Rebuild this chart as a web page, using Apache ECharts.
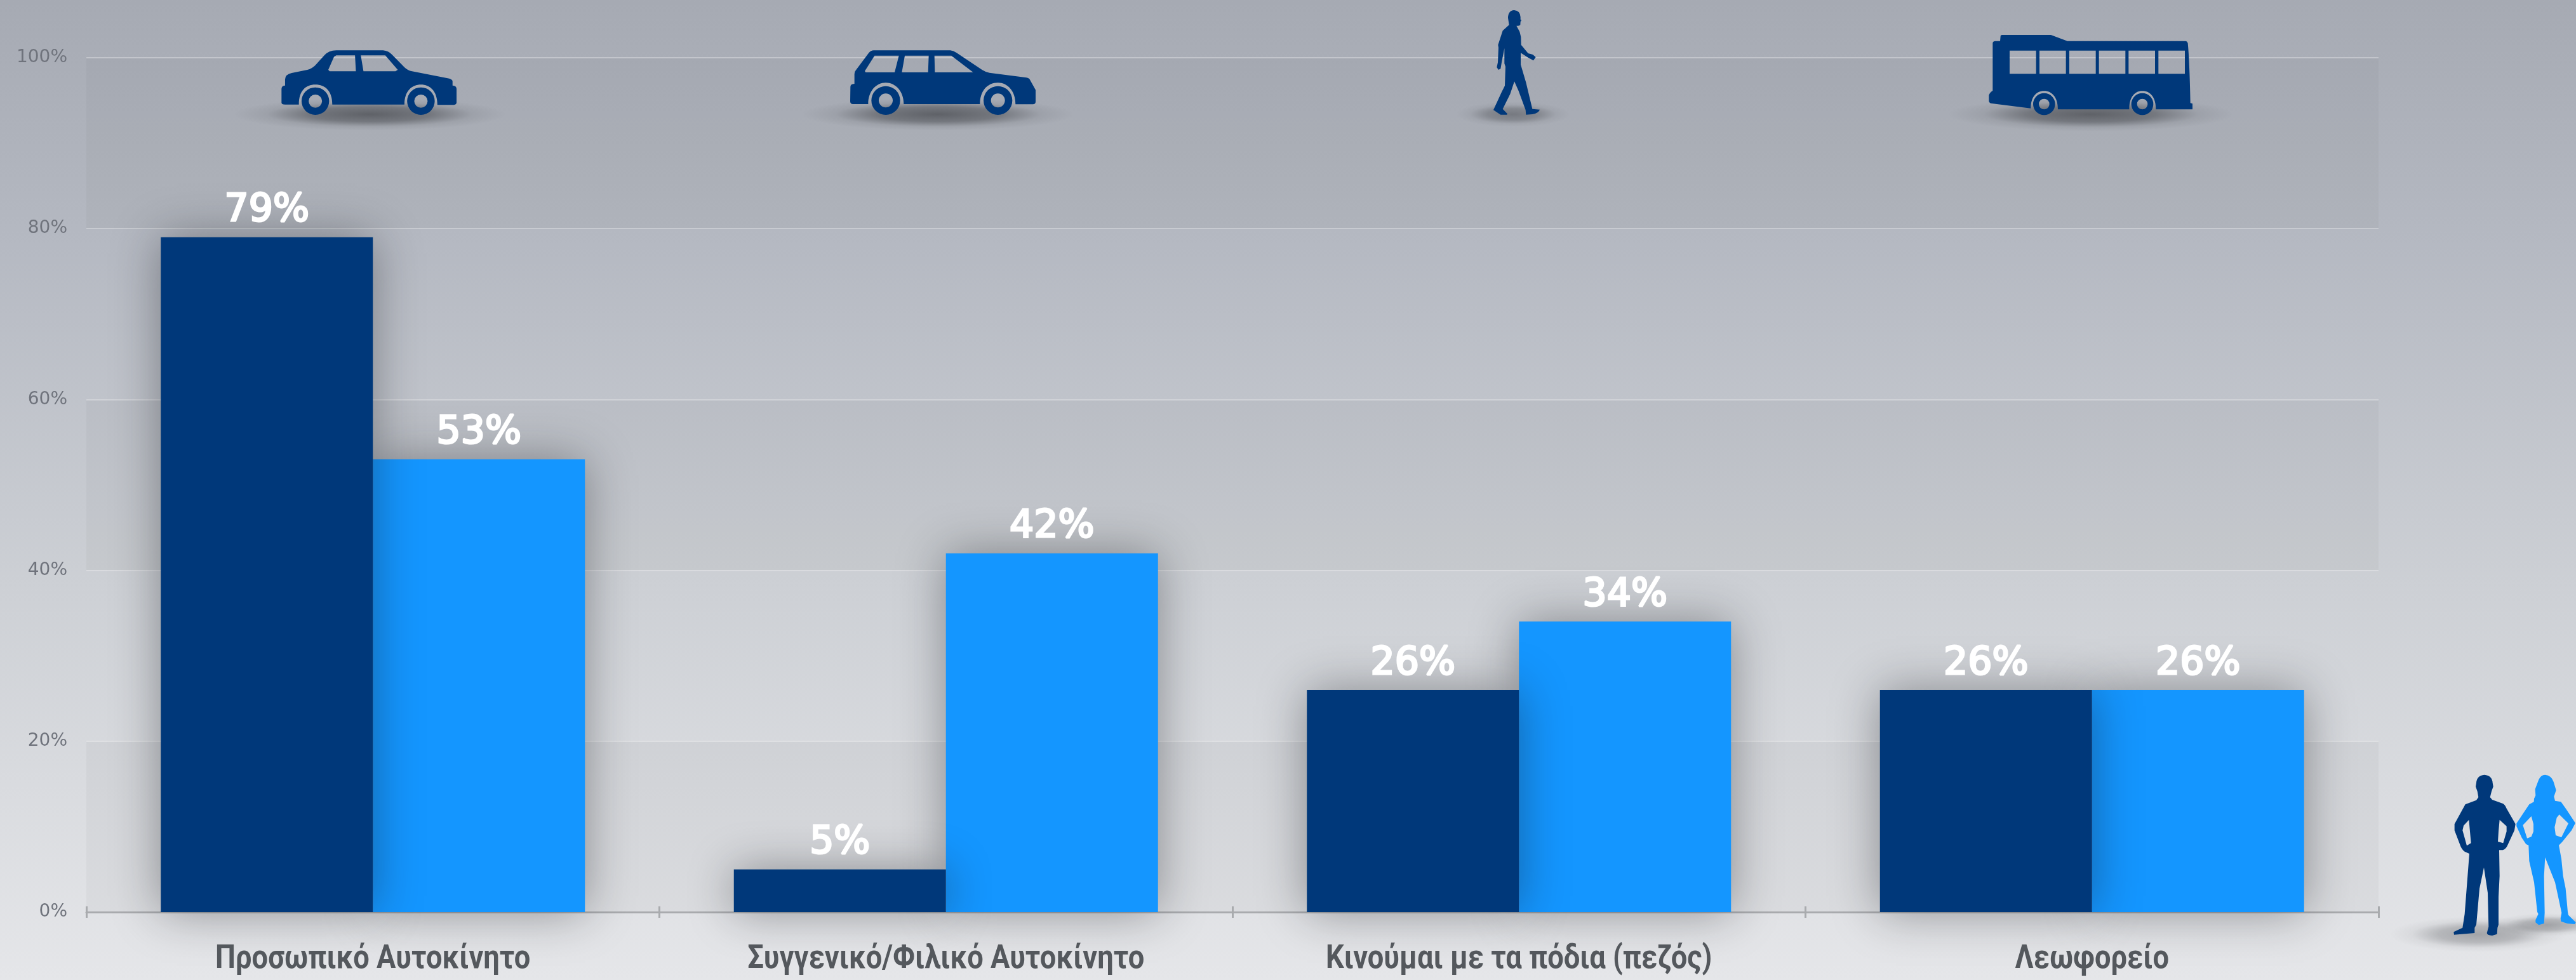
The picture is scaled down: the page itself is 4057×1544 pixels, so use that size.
<!DOCTYPE html>
<html lang="el" style="height:100%;">
<head>
    <meta charset="UTF-8">
    <title>Μετακίνηση</title>
    <script src="https://cdn.jsdelivr.net/npm/echarts@6/dist/echarts.min.js"></script>
</head>
<body style="height:100%;margin:0;">
<div id="main" style="width:4057px;height:1544px;"></div>
<script type="text/javascript">
    const categories = ['Προσωπικό Αυτοκίνητο', 'Συγγενικό/Φιλικό Αυτοκίνητο', 'Κινούμαι με τα πόδια (πεζός)', 'Λεωφορείο'];
    const menValues = [79, 5, 26, 26];
    const womenValues = [53, 42, 34, 26];

    const darkBlue = '#00387a';
    const lightBlue = '#1496ff';

    function wheel(cx, cy, rx, ry, hx, hy) {
        return 'M' + (cx - rx) + ' ' + cy + ' A' + rx + ' ' + ry + ' 0 1 1 ' + (cx + rx) + ' ' + cy + ' A' + rx + ' ' + ry + ' 0 1 1 ' + (cx - rx) + ' ' + cy + ' Z ' +
            'M' + (cx - hx) + ' ' + cy + ' A' + hx + ' ' + hy + ' 0 1 0 ' + (cx + hx) + ' ' + cy + ' A' + hx + ' ' + hy + ' 0 1 0 ' + (cx - hx) + ' ' + cy + ' Z ';
    }

    const sedanPath = 'M632 420 Q632 405 640 404 L640 375 Q640 352 655 345 L690 330 Q700 325 708 308 L728 262 Q738 238 755 238 L860 238 Q872 240 880 258 L908 318 Q915 333 925 337 L1005 370 Q1016 374 1016 385 L1016 404 Q1025 405 1025 420 L1025 485 Q1025 496 1015 496 L982 496 C982 430 965 400 945 400 C925 400 908 430 908 494 L746 494 C746 430 730 400 708 400 C686 400 671 430 671 494 L640 494 Q632 494 632 485 Z ' +
        'M755 262 L750 268 L737 330 L740 337 L799 337 L797 262 Z M810 262 L816 337 L888 337 L893 330 L865 262 Z ' +
        wheel(708, 478, 31, 65, 15, 31) + wheel(945, 478, 31, 65, 15, 31);

    const vanPath = 'M268 290 Q268 277 287 276 L287 230 Q287 218 295 210 L355 130 Q365 118 378 118 L740 118 Q755 120 770 130 L890 210 Q905 220 925 224 L1100 247 Q1112 248 1118 260 L1143 305 L1143 360 Q1143 373 1130 373 L1048 373 C1048 310 1010 271 965 271 C915 271 880 310 880 372 L520 372 C520 310 480 271 435 271 C390 271 352 310 352 372 L280 372 Q268 372 267 360 Z ' +
        'M382 143 L336 216 L340 222 L477 222 L497 143 Z M525 143 L511 222 L635 222 L638 143 Z M665 143 L667 222 L848 222 L745 143 Z ' +
        wheel(435, 355, 68, 68, 33, 33) + wheel(965, 355, 68, 68, 33, 33);

    let busPath = 'M302 172 Q302 165 310 165 L540 165 L618 194 L1175 194 Q1185 195 1187 205 Q1195 290 1199 487 L1209 490 L1209 517 L1036 517 C1036 460 1010 430 972 430 C935 430 910 460 910 517 L573 517 C573 460 545 430 508 430 C470 430 445 460 445 512 L255 488 Q247 486 247 478 L247 450 Q250 438 265 428 L265 205 Q265 194 278 194 L300 194 Z ';
    [[345, 470], [486, 611], [627, 752], [767, 892], [907, 1032], [1048, 1173]].forEach(function (w) {
        busPath += 'M' + w[0] + ' 239 L' + w[0] + ' 349 L' + w[1] + ' 349 L' + w[1] + ' 239 Z ';
    });
    busPath += wheel(508, 492, 52, 52, 25, 25) + wheel(972, 492, 52, 52, 25, 25);

    const walkerPath = 'M404 48 Q432 50 434 80 L434 92 L439 95 L434 102 L433 118 Q425 124 415 122 L430 150 L436 175 L437 212 L470 252 L492 258 L506 270 L495 286 L470 272 L435 250 L435 305 L460 390 L490 515 L525 518 Q520 535 490 540 L460 542 L458 520 L425 430 L405 385 L385 445 L350 515 L372 538 L370 542 L340 542 L306 520 L345 435 L360 405 L363 315 L358 300 L358 228 L345 295 L340 325 L330 330 L322 318 L327 295 L330 225 L328 212 L350 145 L380 118 L375 85 Q375 50 404 48 Z';

    const manPath = 'M638 122 Q675 125 677 160 L680 178 L672 200 L665 228 L675 240 L725 258 Q735 262 742 280 L785 355 L780 385 L750 450 Q740 475 725 478 L708 478 L710 600 L705 700 L705 830 L700 845 L698 875 L675 882 Q650 880 650 870 L658 840 L654 680 L636 560 L615 660 L600 830 L592 845 L592 870 L530 875 L495 878 L493 865 L535 845 L545 780 L555 650 L567 495 L545 485 Q530 475 522 450 L497 385 L497 355 L548 262 L600 242 L610 228 L605 200 L597 178 L600 160 Q602 125 638 122 Z ' +
        'M565 335 L540 362 L535 385 L555 457 L575 445 Z M710 335 L705 390 L702 438 L727 445 L743 390 L743 365 Z';

    const womanPath = 'M925 122 Q955 125 965 155 L977 195 L967 225 L972 245 L1000 250 L1025 285 L1068 350 L1050 385 L1005 440 L990 455 L1002 520 L1010 600 L1022 660 L1032 770 L1035 785 L1070 820 L1065 828 L1030 825 L1000 815 L998 800 L1003 775 L985 690 L972 630 L925 512 L920 600 L923 775 L920 825 L895 832 L880 820 L880 808 L893 780 L888 770 L873 630 L850 530 L847 455 L835 450 L815 420 L790 365 L790 352 L850 262 L872 250 L873 235 L880 220 L878 190 L895 145 Q905 122 925 122 Z ' +
        'M860 318 L820 360 L840 422 L860 415 L870 390 L870 355 Z M992 310 L980 325 L970 370 L975 408 L1002 418 L1035 352 Z';

    // graphic component has no plain path type, so each outline becomes a shape
    const iconPaths = {sedan: sedanPath, van: vanPath, bus: busPath, walker: walkerPath, man: manPath, woman: womanPath};
    Object.keys(iconPaths).forEach(function (name) {
        echarts.graphic.registerShape(name, echarts.graphic.extendPath(iconPaths[name], {}));
    });

    function icon(name, color, ox, oy, sx, sy) {
        return {
            type: name, z: 11, x: ox, y: oy, scaleX: sx, scaleY: sy,
            style: {fill: color}
        };
    }

    function groundShadow(x, y, r, squash, alpha) {
        return {
            type: 'circle', z: 10, x: x, y: y, scaleY: squash,
            shape: {cx: 0, cy: 0, r: r},
            style: {
                fill: {
                    type: 'radial', x: 0.5, y: 0.5, r: 0.5,
                    colorStops: [
                        {offset: 0, color: 'rgba(50,52,56,' + alpha + ')'},
                        {offset: 0.45, color: 'rgba(50,52,56,' + alpha * 0.7 + ')'},
                        {offset: 0.75, color: 'rgba(50,52,56,' + alpha * 0.15 + ')'},
                        {offset: 1, color: 'rgba(50,52,56,0)'}
                    ]
                }
            }
        };
    }

    // no condensed Greek font here, so the category names are squeezed by hand
    function renderCategoryName(params, api) {
        const p = api.coord([api.value(0), 0]);
        return {
            type: 'text',
            x: p[0],
            y: p[1] + 75,
            scaleX: 0.87,
            style: {
                text: categories[api.value(0)],
                font: 'bold 52px Roboto, sans-serif',
                fill: '#54585d',
                align: 'center',
                verticalAlign: 'middle'
            }
        };
    }

    const myChart = echarts.init(document.getElementById('main'));
    myChart.setOption({
        animation: false,
        backgroundColor: {
            type: 'linear', x: 0, y: 0, x2: 0, y2: 1,
            colorStops: [
                {offset: 0, color: '#a6aab3'},
                {offset: 0.25, color: '#b5b9c2'},
                {offset: 0.6, color: '#cdd0d5'},
                {offset: 1, color: '#e5e6e9'}
            ]
        },
        grid: {left: 136, right: 311, top: 91, bottom: 107},
        xAxis: [{
            type: 'category',
            data: categories,
            axisLine: {lineStyle: {color: '#a9abae', width: 3}},
            axisTick: {show: true, length: 9, lineStyle: {color: '#a9abae', width: 3}},
            axisLabel: {show: false}
        }, {
            // only there for the upper half of the ticks
            type: 'category',
            data: categories,
            position: 'bottom',
            axisLine: {show: false},
            axisTick: {show: true, inside: true, length: 9, lineStyle: {color: '#a9abae', width: 3}},
            axisLabel: {show: false}
        }],
        yAxis: {
            type: 'value',
            min: 0,
            max: 100,
            interval: 20,
            axisLine: {show: false},
            axisTick: {show: false},
            axisLabel: {
                margin: 30,
                padding: [4, 0, 0, 0],
                formatter: '{value}%',
                fontFamily: '"DejaVu Sans", sans-serif',
                fontSize: 28,
                color: '#6f737c'
            },
            splitLine: {lineStyle: {color: 'rgba(255,255,255,0.3)', width: 2}},
            splitArea: {show: true, areaStyle: {color: ['rgba(60,65,75,0.045)', 'rgba(0,0,0,0)']}}
        },
        series: [{
            name: 'Άνδρες',
            type: 'bar',
            z: 4,
            data: menValues,
            barWidth: 334,
            barGap: 0,
            itemStyle: {color: darkBlue, shadowBlur: 70, shadowColor: 'rgba(20,22,28,0.4)'},
            label: {
                show: true, position: 'top', distance: 11, formatter: '{c}%',
                fontFamily: '"DejaVu Sans", sans-serif', fontSize: 60,
                color: '#fff', textBorderColor: '#fff', textBorderWidth: 3
            }
        }, {
            name: 'Γυναίκες',
            type: 'bar',
            z: 3,
            data: womenValues,
            barWidth: 334,
            itemStyle: {color: lightBlue, shadowBlur: 70, shadowColor: 'rgba(20,22,28,0.4)'},
            label: {
                show: true, position: 'top', distance: 11, formatter: '{c}%',
                fontFamily: '"DejaVu Sans", sans-serif', fontSize: 60,
                color: '#fff', textBorderColor: '#fff', textBorderWidth: 3
            }
        }, {
            type: 'custom',
            z: 5,
            clip: false,
            silent: true,
            renderItem: renderCategoryName,
            data: categories.map(function (c, i) {
                return [i];
            })
        }],
        graphic: {
            elements: [
                groundShadow(582, 180, 215, 0.12, 0.62),
                groundShadow(1477, 180, 215, 0.12, 0.62),
                groundShadow(2383, 180, 90, 0.22, 0.42),
                groundShadow(3293, 180, 225, 0.12, 0.62),
                groundShadow(3903, 1472, 140, 0.2, 0.36),
                groundShadow(4013, 1457, 90, 0.2, 0.36),
                icon('sedan', darkBlue, 0, 0, 0.7015, 1 / 3),
                icon('van', darkBlue, 1250, 40, 1 / 3, 1 / 3),
                icon('walker', darkBlue, 2250, 0, 1 / 3, 1 / 3),
                icon('bus', darkBlue, 3050, 0, 1 / 3, 1 / 3),
                icon('man', darkBlue, 3700, 1180, 1 / 3, 1 / 3),
                icon('woman', lightBlue, 3700, 1180, 1 / 3, 1 / 3)
            ]
        }
    });
</script>
</body>
</html>
